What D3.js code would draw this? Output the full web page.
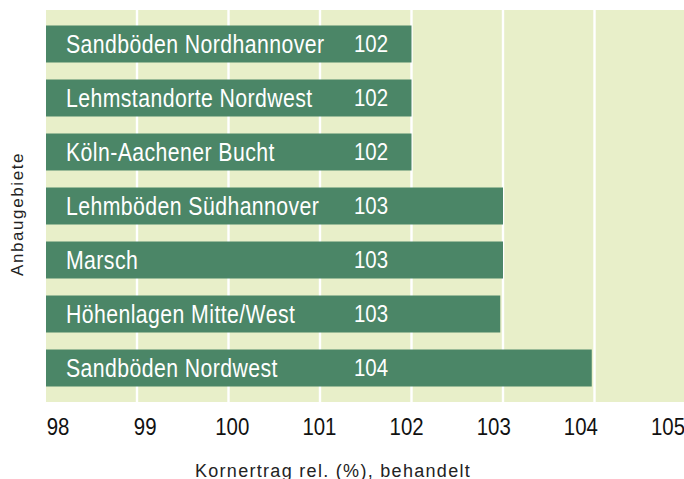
<!DOCTYPE html>
<html>
<head>
<meta charset="utf-8">
<script src="https://cdn.jsdelivr.net/npm/d3@7"></script>
<style>
  body { margin: 0; background: #fff; }
  .cat, .val, .tick-label { font-family: "Liberation Sans", Arial, sans-serif; fill: #fff; }
  .tick-label { fill: #111; }
  .title { font-family: "Liberation Sans", Arial, sans-serif; fill: #222; }
</style>
</head>
<body>
<div id="chart"></div>
<script>
var categories = [
  'Sandböden Nordhannover',
  'Lehmstandorte Nordwest',
  'Köln-Aachener Bucht',
  'Lehmböden Südhannover',
  'Marsch',
  'Höhenlagen Mitte/West',
  'Sandböden Nordwest'
]
var values = [102, 102, 102, 103, 103, 102.97, 103.97]
var valueLabels = ['102', '102', '102', '103', '103', '103', '104']
var ticks = [98, 99, 100, 101, 102, 103, 104, 105]

var width = 684, height = 479
var margin = {left: 46, right: 0, top: 10, bottom: 77}
var innerW = width - margin.left - margin.right
var innerH = height - margin.top - margin.bottom
var narrow = 0.85  // squeeze for a condensed look, no narrow font installed

var svg = d3.select('#chart').append('svg')
  .attr('width', width)
  .attr('height', height)

var x = d3.scaleLinear().domain([98, 105]).range([margin.left - 0.5, margin.left + 640])
// the labels under the axis sit a bit off the gridlines in the original
var xLabel = d3.scaleLinear().domain([98, 105]).range([58, 668])
var y = d3.scaleBand().domain(categories)
  .range([margin.top, margin.top + innerH])
  .paddingInner(0.315)
  .paddingOuter(0.287)

svg.append('rect')
  .attr('x', margin.left)
  .attr('y', margin.top)
  .attr('width', innerW)
  .attr('height', innerH)
  .attr('fill', '#e8efc9')

svg.append('g').selectAll('line')
  .data(ticks.slice(1))
  .join('line')
  .attr('x1', d => x(d)).attr('x2', d => x(d))
  .attr('y1', margin.top).attr('y2', margin.top + innerH)
  .attr('stroke', '#fff')
  .attr('stroke-width', 2.4)

var rows = svg.append('g').selectAll('g')
  .data(categories)
  .join('g')

rows.append('rect')
  .attr('x', margin.left)
  .attr('y', d => y(d))
  .attr('width', (d, i) => x(values[i]) - margin.left)
  .attr('height', y.bandwidth())
  .attr('fill', '#4b8667')

rows.append('text')
  .attr('class', 'cat')
  .attr('transform', d => 'translate(66,' + (y(d) + y.bandwidth() / 2) + ') scale(' + narrow + ',1)')
  .attr('dy', '0.35em')
  .style('font-size', '25px')
  .style('letter-spacing', '0.5px')
  .text(d => d)

rows.append('text')
  .attr('class', 'val')
  .attr('transform', d => 'translate(354,' + (y(d) + y.bandwidth() / 2) + ') scale(' + narrow + ',1)')
  .attr('dy', '0.35em')
  .style('font-size', '24px')
  .text((d, i) => valueLabels[i])

svg.append('g').selectAll('text')
  .data(ticks)
  .join('text')
  .attr('class', 'tick-label')
  .attr('transform', d => 'translate(' + xLabel(d) + ',435) scale(' + narrow + ',1)')
  .attr('text-anchor', 'middle')
  .style('font-size', '24px')
  .text(d => d)

svg.append('text')
  .attr('class', 'title')
  .attr('x', 333)
  .attr('y', 477)
  .attr('text-anchor', 'middle')
  .style('font-size', '18px')
  .style('letter-spacing', '1.3px')
  .text('Kornertrag rel. (%), behandelt')

svg.append('text')
  .attr('class', 'title')
  .attr('transform', 'translate(23,214) rotate(-90)')
  .attr('text-anchor', 'middle')
  .style('font-size', '17px')
  .style('letter-spacing', '1.6px')
  .text('Anbaugebiete')
</script>
</body>
</html>
